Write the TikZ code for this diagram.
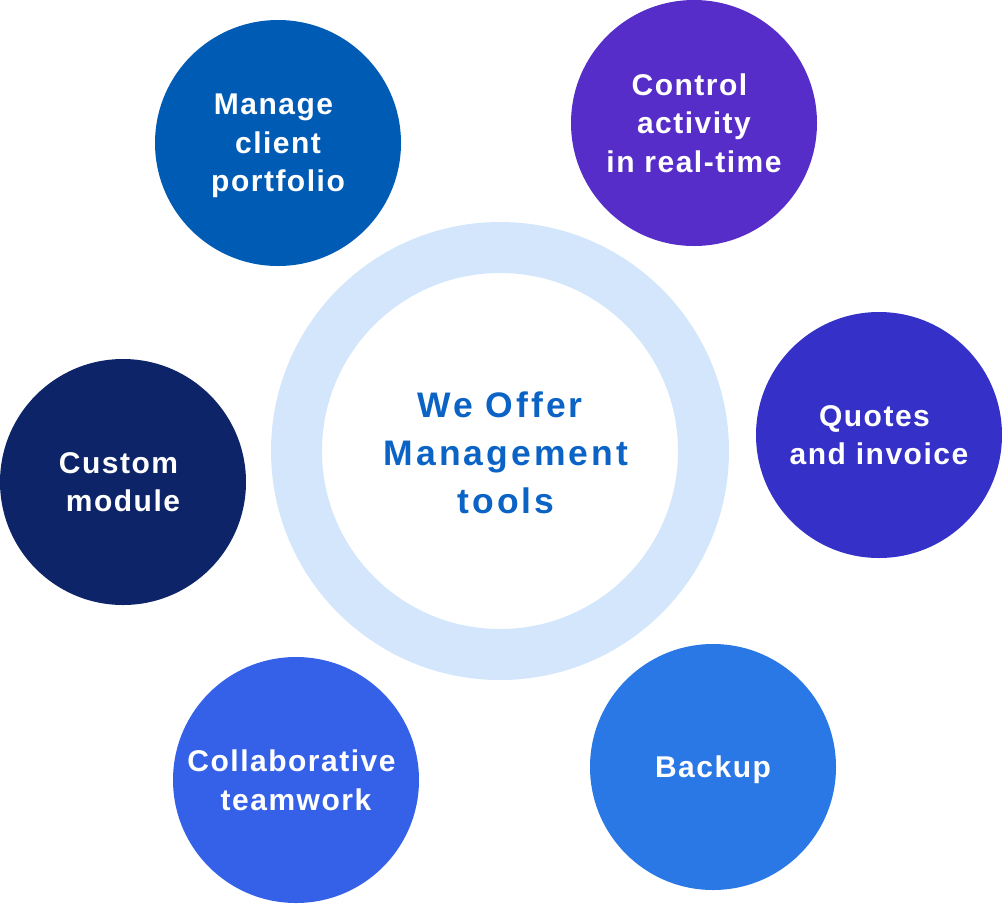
\documentclass[tikz,border=0pt]{standalone}
\usepackage{fontspec}
\newfontfamily\lblfont{Liberation Sans}[LetterSpace=5]
\newfontfamily\ctrfont{Liberation Sans}[LetterSpace=8.5]
\newcommand\tsp{\hspace*{9pt}}
\definecolor{cManage}{HTML}{005BB5}
\definecolor{cControl}{HTML}{562DC8}
\definecolor{cQuotes}{HTML}{3430C8}
\definecolor{cBackup}{HTML}{2A77E6}
\definecolor{cCollab}{HTML}{3461E8}
\definecolor{cCustom}{HTML}{0D2468}
\definecolor{cRing}{HTML}{D3E6FB}
\definecolor{cCenter}{HTML}{0B63C5}
\tikzset{
  bubble/.style={circle, fill=#1, minimum size=246pt, inner sep=0pt, text=white,
    align=center, text depth=0pt, font=\lblfont\bfseries\fontsize{30}{38.5}\selectfont},
}
\begin{document}
\begin{tikzpicture}[x=1pt,y=-1pt]
\useasboundingbox (0,0) rectangle (1002,903);
\node[circle, draw=cRing, line width=51pt, minimum size=407pt, inner sep=0pt]
  (ring) at (500,451) {};
\node[text=cCenter, align=center, inner sep=0pt, text depth=0pt,
  font=\ctrfont\bfseries\fontsize{35.5}{48}\selectfont]
  (center) at (506,453) {We Offer\hspace*{12pt}\\Management\\tools};
\node[bubble=cManage] (manage) at (278,143) {Manage\tsp\\client\\portfolio};
\node[bubble=cControl] (control) at (694,123) {Control\tsp\\activity\tsp\\in real-time};
\node[bubble=cQuotes] (quotes) at (879,435) {Quotes\tsp\\and invoice};
\node[bubble=cBackup] (backup) at (713,767) {Backup};
\node[bubble=cCollab] (collab) at (296,780) {Collaborative\tsp\\teamwork};
\node[bubble=cCustom] (custom) at (123,482) {Custom\tsp\\module};
\end{tikzpicture}
\end{document}
